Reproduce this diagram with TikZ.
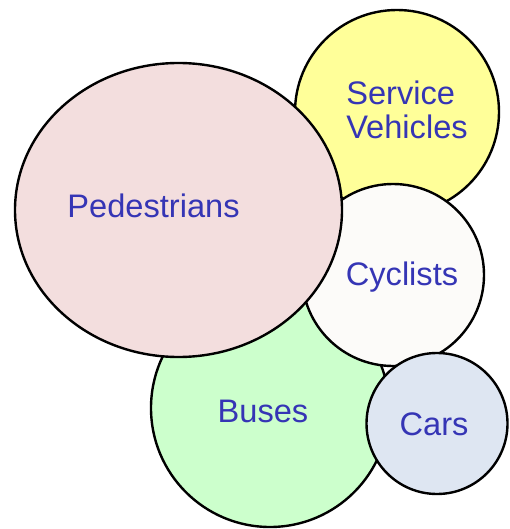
\documentclass[tikz,border=0pt]{standalone}
\usepackage{fontspec}
\setmainfont{Liberation Sans}
\usetikzlibrary{shapes.geometric}
\definecolor{pedfill}{HTML}{F3DEDE}
\definecolor{servfill}{HTML}{FFFF99}
\definecolor{cycfill}{HTML}{FCFBF9}
\definecolor{busfill}{HTML}{CCFFCC}
\definecolor{carfill}{HTML}{DEE6F2}
\definecolor{labelblue}{HTML}{3535B5}
\tikzset{
  blob/.style={draw=black, line width=2.4pt, inner sep=0pt, outer sep=0pt},
  roundblob/.style={blob, circle, minimum size=#1},
  lbl/.style={text=labelblue, font=\fontsize{32.6}{34}\selectfont, inner sep=0pt}
}
\begin{document}
\begin{tikzpicture}[x=1pt,y=-1pt]
\useasboundingbox (0,0) rectangle (509,529);
\node[roundblob=204pt, fill=servfill] (serv) at (397,112) {};
\node[roundblob=238pt, fill=busfill] (bus) at (270,408) {};
\node[roundblob=182pt, fill=cycfill] (cyc) at (393,275) {};
\node[blob, ellipse, fill=pedfill, minimum width=327pt, minimum height=294pt] (ped) at (178.5,210) {};
\node[roundblob=141pt, fill=carfill] (car) at (437,423.5) {};
\node[lbl, align=left] (servt) at (407,109.5) {Service\\Vehicles};
\node[lbl, anchor=base] (pedt) at (153.5,217) {Pedestrians};
\node[lbl, anchor=base] (cyct) at (402,285) {Cyclists};
\node[lbl, anchor=base] (bust) at (263,422) {Buses};
\node[lbl, anchor=base] (cart) at (434,435) {Cars};
\end{tikzpicture}
\end{document}
